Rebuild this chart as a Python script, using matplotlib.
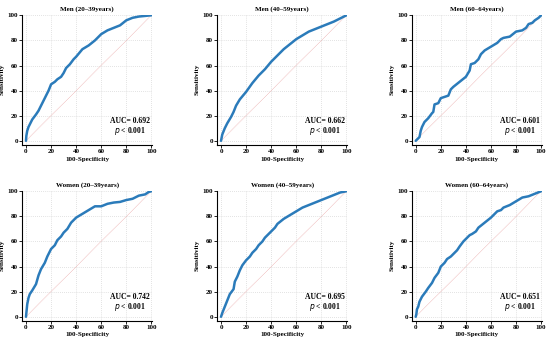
import numpy as np
import matplotlib.pyplot as plt

plt.rcParams['font.family'] = ['Liberation Serif', 'DejaVu Serif']

titles = ['Men (20–39years)', 'Men (40–59years)', 'Men (60–64years)',
          'Women (20–39years)', 'Women (40–59years)', 'Women (60–64years)']
auc = ['0.692', '0.662', '0.601', '0.742', '0.695', '0.651']

# ROC points (100-specificity, sensitivity)
men_20_x = [0, 0.3, 1, 2, 5, 8, 10, 13, 15, 18, 20, 23, 25, 28, 30, 32, 35, 38, 40, 45, 50, 55, 60, 65, 70, 75, 80, 85, 90, 95, 100]
men_20_y = [0, 4, 8, 11, 17, 21, 24, 30, 34, 40, 45, 47, 49, 51, 54, 58, 61, 65, 67, 73, 76, 80, 85, 88, 90, 92, 96, 98, 99, 99.5, 100]
men_40_x = [0, 1, 3, 5, 8, 10, 12, 15, 20, 25, 30, 35, 40, 45, 50, 55, 60, 65, 70, 75, 80, 85, 90, 95, 100]
men_40_y = [0, 5, 10, 14, 19, 23, 28, 33, 39, 46, 52, 57, 63, 68, 73, 77, 81, 84, 87, 89, 91, 93, 95, 97.5, 100]
men_60_x = [0, 1, 3, 4, 5, 7, 10, 13, 14, 15, 18, 20, 23, 26, 28, 30, 35, 40, 43, 44, 47, 50, 52, 55, 60, 65, 68, 70, 75, 80, 85, 88, 90, 93, 95, 98, 100]
men_60_y = [0, 1, 3, 8, 11, 15, 18, 22, 23, 29, 30, 34, 35, 36, 41, 43, 47, 51, 56, 61, 62, 65, 69, 72, 75, 78, 81, 82, 83, 87, 88, 90, 93, 94, 96, 98, 100]
wom_20_x = [0, 0.5, 1, 2, 3, 5, 8, 10, 12, 15, 17, 20, 23, 25, 28, 30, 33, 36, 40, 45, 50, 55, 60, 65, 70, 75, 80, 85, 90, 95, 98, 100]
wom_20_y = [0, 5, 10, 15, 18, 21, 26, 33, 38, 43, 48, 54, 57, 61, 64, 67, 70, 75, 79, 82, 85, 88, 88, 90, 91, 91.5, 93, 94, 96.5, 97.5, 99.5, 100]
wom_40_x = [0, 1, 3, 5, 7, 10, 11, 13, 15, 17, 20, 23, 25, 28, 30, 33, 35, 38, 40, 43, 45, 50, 55, 60, 65, 70, 75, 80, 85, 90, 95, 100]
wom_40_y = [0, 3, 8, 13, 18, 22, 28, 32, 37, 41, 45, 48, 51, 54, 57, 60, 63, 66, 68, 71, 74, 78, 81, 84, 87, 89, 91, 93, 95, 97, 99, 100]
wom_60_x = [0, 0.5, 1, 2, 3, 5, 8, 10, 13, 15, 18, 20, 23, 25, 28, 30, 33, 35, 38, 40, 43, 45, 48, 50, 55, 60, 65, 68, 70, 75, 80, 85, 90, 95, 100]
wom_60_y = [0, 2, 6, 8, 12, 16, 20, 23, 27, 31, 35, 40, 43, 46, 48, 50, 53, 56, 60, 62, 65, 66, 68, 71, 75, 79, 84, 85, 87, 89, 92, 95, 96, 98, 100]

xs = [men_20_x, men_40_x, men_60_x, wom_20_x, wom_40_x, wom_60_x]
ys = [men_20_y, men_40_y, men_60_y, wom_20_y, wom_40_y, wom_60_y]

fig = plt.figure(figsize=(5.5, 3.41), dpi=100)
lefts = [0.0404, 0.395, 0.749]
bottoms = [0.576, 0.060]

for i in range(6):
    r, c = divmod(i, 3)
    ax = fig.add_axes([lefts[c], bottoms[r], 0.236, 0.381])
    ax.plot([0, 100], [0, 100], color='#e8a0a0', lw=0.5, ls=(0, (1, 1)))
    ax.plot(xs[i], ys[i], color='#2b7bba', lw=1.8, solid_capstyle='round')
    ax.set_xlim(-3, 100.5)
    ax.set_ylim(-3, 100.5)
    ax.set_xticks(range(0, 101, 20))
    ax.set_yticks(range(0, 101, 20))
    ax.grid(True, color='#c8c8c8', lw=0.5, ls=(0, (1, 2)))
    ax.spines['top'].set_visible(False)
    ax.spines['right'].set_visible(False)
    ax.spines['left'].set_linewidth(0.8)
    ax.spines['bottom'].set_linewidth(0.8)
    ax.tick_params(labelsize=5, length=2, width=0.6, pad=1)
    for lab in ax.get_xticklabels() + ax.get_yticklabels():
        lab.set_fontweight('bold')
    ax.set_title(titles[i], fontsize=5, fontweight='bold', pad=3)
    ax.set_xlabel('100-Specificity', fontsize=5, fontweight='bold', labelpad=2)
    ax.set_ylabel('Sensitivity', fontsize=5, fontweight='bold', labelpad=2)
    ax.text(83, 16, 'AUC= ' + auc[i], fontsize=5.5, fontweight='bold', ha='center', va='center')
    ax.text(83, 7.5, r'$\mathbf{\it{p}}$ < 0.001', fontsize=5.5, fontweight='bold', ha='center', va='center')

fig.savefig('out.png', dpi=100)
